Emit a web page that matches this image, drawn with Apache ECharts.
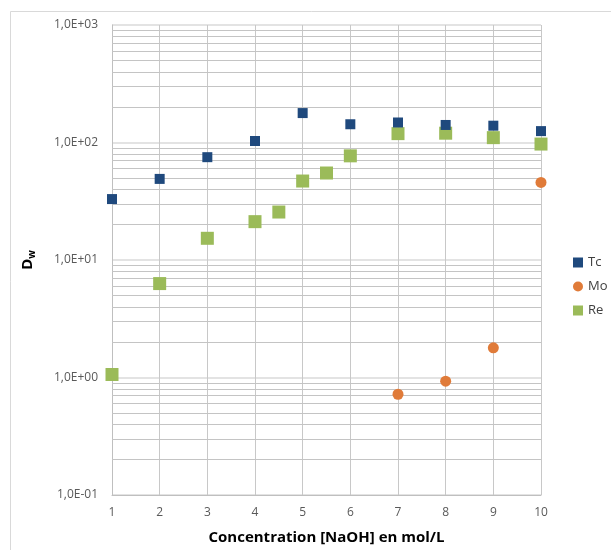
<!DOCTYPE html>
<html>
<head>
<meta charset="utf-8">
<script src="https://cdn.jsdelivr.net/npm/echarts@6/dist/echarts.min.js"></script>
<style>
html,body{margin:0;padding:0;background:#fff;}
#c{width:611px;height:550px;}
</style>
</head>
<body>
<div id="c"></div>
<script>
var tcX = [1, 2, 3, 4, 5, 6, 7, 8, 9, 10];
var tcY = [33, 49, 75, 103, 178, 143, 148, 141, 139, 125];
var moX = [7, 8, 9, 10];
var moY = [0.72, 0.93, 1.79, 45.7];
var reX = [1, 2, 3, 4, 4.5, 5, 5.5, 6, 7, 8, 9, 10];
var reY = [1.06, 6.3, 15.3, 21.2, 25.6, 47, 55, 77, 119, 120, 110, 97];
var xTicks = [1, 2, 3, 4, 5, 6, 7, 8, 9, 10];
var decades = [0.1, 1, 10, 100];
var minorMult = [2, 3, 4, 5, 6, 7, 8, 9];

function zip(xs, ys) { return xs.map(function (x, i) { return [x, ys[i]]; }); }
var minorLines = [];
decades.forEach(function (d) {
  minorMult.forEach(function (m) { minorLines.push({ yAxis: +(d * m).toPrecision(3) }); });
});

function fmtE(v) {
  var e = Math.round(Math.log10(v));
  var s = e < 0 ? '-' : '+';
  var a = Math.abs(e);
  return '1,0E' + s + (a < 10 ? '0' : '') + a;
}

var chart = echarts.init(document.getElementById('c'), null, { renderer: 'canvas' });
chart.setOption({
  animation: false,
  backgroundColor: '#ffffff',
  textStyle: { fontFamily: 'Open Sans' },
  graphic: [{
    type: 'rect', shape: { x: 10.5, y: 11.5, width: 640, height: 600 },
    style: { fill: 'none', stroke: '#d9d9d9', lineWidth: 1 }, silent: true, z: -10
  }],
  grid: { left: 112, right: 70, top: 25, bottom: 54 },
  legend: {
    orient: 'vertical', left: 568, top: 251, itemGap: 11,
    itemWidth: 10, itemHeight: 10,
    textStyle: { fontFamily: 'Open Sans', fontSize: 13, color: '#404040' },
    data: [
      { name: 'Tc', icon: 'rect' },
      { name: 'Mo', icon: 'circle' },
      { name: 'Re', icon: 'rect' }
    ]
  },
  xAxis: {
    type: 'value', min: 1, max: 10, interval: 1,
    name: 'Concentration [NaOH] en mol/L', nameLocation: 'middle', nameGap: 35,
    nameTextStyle: { fontFamily: 'Open Sans', fontSize: 15, fontWeight: 'bold', color: '#000' },
    axisLine: { show: true, lineStyle: { color: '#bfbfbf', width: 1 } },
    axisTick: { show: false },
    axisLabel: { color: '#595959', fontSize: 12, margin: 12, fontFamily: 'Open Sans' },
    splitLine: { show: true, lineStyle: { color: '#c8c8c8', width: 1 } }
  },
  yAxis: {
    type: 'log', logBase: 10, min: 0.1, max: 1000,
    name: '{a|D}{b|w}', nameLocation: 'middle', nameGap: 75, nameRotate: 90,
    nameTextStyle: {
      rich: {
        a: { fontFamily: 'Open Sans', fontSize: 15, fontWeight: 'bold', color: '#000' },
        b: { fontFamily: 'Open Sans', fontSize: 10, fontWeight: 'bold', color: '#000', verticalAlign: 'bottom', padding: [8, 0, 0, 0] }
      }
    },
    axisLine: { show: true, lineStyle: { color: '#bfbfbf', width: 1 } },
    axisTick: { show: false },
    axisLabel: { color: '#595959', fontSize: 12, margin: 14, fontFamily: 'Open Sans', formatter: fmtE },
    splitLine: { show: true, lineStyle: { color: '#e3e3e3', width: 2 } }
  },
  series: [
    {
      name: 'grid', type: 'line', data: [], silent: true, z: 1,
      markLine: {
        silent: true, symbol: 'none', label: { show: false }, z: 1,
        lineStyle: { color: '#c4c4c4', width: 1, type: 'solid' },
        data: minorLines, animation: false
      }
    },
    {
      name: 'Tc', type: 'scatter', data: zip(tcX, tcY), symbol: 'rect', symbolSize: 10,
      itemStyle: { color: '#1F497D', opacity: 1 }, z: 6
    },
    {
      name: 'Mo', type: 'scatter', data: zip(moX, moY), symbol: 'circle', symbolSize: 11,
      itemStyle: { color: '#E07B39', opacity: 1 }, z: 6
    },
    {
      name: 'Re', type: 'scatter', data: zip(reX, reY), symbol: 'rect', symbolSize: 13,
      itemStyle: { color: '#9BBB59', opacity: 1 }, z: 5
    }
  ]
});
</script>
</body>
</html>
